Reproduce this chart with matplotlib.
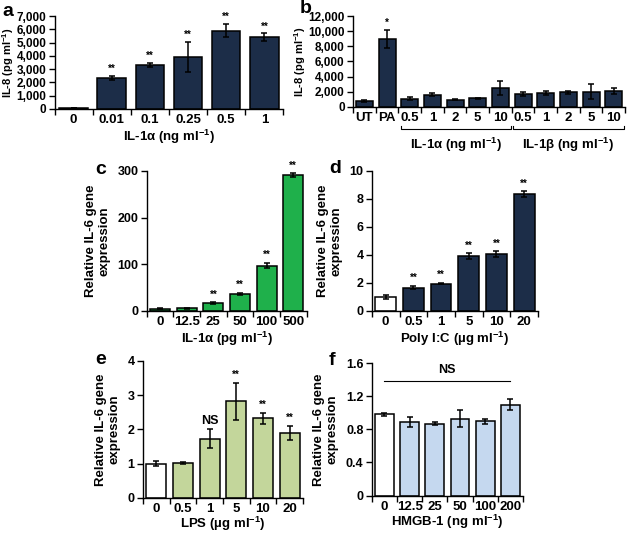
import matplotlib
matplotlib.use('Agg')
import matplotlib.pyplot as plt
import matplotlib.transforms as mtrans
from matplotlib.ticker import FuncFormatter

plt.rcParams['font.family'] = ['Liberation Sans', 'DejaVu Sans']
plt.rcParams['font.weight'] = 'bold'
plt.rcParams['axes.labelweight'] = 'bold'
plt.rcParams['font.size'] = 8
plt.rcParams['mathtext.fontset'] = 'custom'
plt.rcParams['mathtext.rm'] = 'Liberation Sans:bold'
plt.rcParams['mathtext.it'] = 'Liberation Sans:bold'
plt.rcParams['mathtext.bf'] = 'Liberation Sans:bold'
plt.rcParams['mathtext.default'] = 'rm'
plt.rcParams['axes.linewidth'] = 1.0

NAVY = '#1c2d48'
GREEN = '#1fb04b'
LGREEN = '#c3d69b'
LBLUE = '#c5d8ef'

# panel a
a_cats = ['0', '0.01', '0.1', '0.25', '0.5', '1']
a_vals = [80, 2350, 3300, 3900, 5900, 5400]
a_errs = [0, 150, 150, 1150, 500, 300]
a_sig = ['', '**', '**', '**', '**', '**']

# panel b
b_cats = ['UT', 'PA', '0.5', '1', '2', '5', '10', '0.5', '1', '2', '5', '10']
b_vals = [750, 9000, 1050, 1600, 950, 1100, 2450, 1700, 1800, 1900, 2000, 2100]
b_errs = [150, 1200, 200, 200, 50, 50, 900, 300, 300, 200, 1000, 400]
b_sig = ['', '*', '', '', '', '', '', '', '', '', '', '']

# panel c
c_cats = ['0', '12.5', '25', '50', '100', '500']
c_vals = [4, 5, 16, 36, 97, 291]
c_errs = [1, 2, 2, 2, 6, 4]
c_sig = ['', '', '**', '**', '**', '**']

# panel d
d_cats = ['0', '0.5', '1', '5', '10', '20']
d_vals = [1.0, 1.65, 1.93, 3.9, 4.05, 8.35]
d_errs = [0.15, 0.12, 0.05, 0.2, 0.2, 0.2]
d_sig = ['', '**', '**', '**', '**', '**']

# panel e
e_cats = ['0', '0.5', '1', '5', '10', '20']
e_vals = [1.0, 1.02, 1.72, 2.82, 2.32, 1.9]
e_errs = [0.08, 0.02, 0.28, 0.55, 0.17, 0.2]
e_sig = ['', '', 'NS', '**', '**', '**']

# panel f
f_cats = ['0', '12.5', '25', '50', '100', '200']
f_vals = [0.98, 0.89, 0.87, 0.93, 0.9, 1.1]
f_errs = [0.02, 0.06, 0.02, 0.1, 0.03, 0.07]


def bars(ax, cats, vals, errs, colors, sig, ymax, yticks, fmt=None, sig_off=0.02, ysize=9):
    x = list(range(len(cats)))
    ax.bar(x, vals, width=0.75, color=colors, edgecolor='black', linewidth=1.1, zorder=2)
    ax.errorbar(x, vals, yerr=errs, fmt='none', ecolor='black', elinewidth=1.1,
                capsize=2.5, capthick=1.1, zorder=3)
    for xi, v, e, s in zip(x, vals, errs, sig):
        if s:
            fs = 9 if s == 'NS' else 7
            ax.text(xi, v + e + ymax * sig_off, s, ha='center', va='bottom', fontsize=fs)
    ax.set_xlim(-0.5, len(cats) - 0.5)
    ax.set_ylim(0, ymax)
    ax.set_yticks(yticks)
    if fmt:
        ax.yaxis.set_major_formatter(FuncFormatter(fmt))
    ax.set_xticks([i - 0.5 for i in range(len(cats) + 1)])
    ax.set_xticklabels([])
    ax.set_xticks(x, minor=True)
    ax.set_xticklabels(cats, minor=True, fontweight='bold')
    ax.tick_params(axis='x', which='minor', length=0, pad=4, labelsize=9.5)
    ax.tick_params(axis='x', which='major', length=4, width=1.0, direction='out')
    ax.tick_params(axis='y', length=4, width=1.0, direction='out', pad=2, labelsize=ysize)
    plt.setp(ax.get_yticklabels(), fontweight='bold')
    ax.spines['top'].set_visible(False)
    ax.spines['right'].set_visible(False)


fig = plt.figure(figsize=(6.27, 5.34), dpi=100)

comma = lambda v, p: '{:,.0f}'.format(v)

ax_a = fig.add_axes([0.087, 0.796, 0.365, 0.174])
bars(ax_a, a_cats, a_vals, a_errs, [NAVY] * 6, a_sig, 7000, range(0, 7001, 1000), comma, ysize=8.5)
ax_a.set_ylabel('IL-8 (pg ml$^{-1}$)', fontsize=8, labelpad=0)
ax_a.set_xlabel('IL-1α (ng ml$^{-1}$)', fontsize=9.5, labelpad=1)

ax_b = fig.add_axes([0.563, 0.800, 0.434, 0.170])
bars(ax_b, b_cats, b_vals, b_errs, [NAVY] * 12, b_sig, 12000, range(0, 12001, 2000), comma, ysize=8.5)
ax_b.set_ylabel('IL-8 (pg ml$^{-1}$)', fontsize=8, labelpad=0)
tr = mtrans.blended_transform_factory(ax_b.transData, ax_b.transAxes)
for x0, x1, lab in [(1.6, 6.45, 'IL-1α (ng ml$^{-1}$)'), (6.55, 11.45, 'IL-1β (ng ml$^{-1}$)')]:
    ax_b.plot([x0, x0, x1, x1], [-0.21, -0.25, -0.25, -0.21], color='black', lw=0.8,
              transform=tr, clip_on=False)
    ax_b.text((x0 + x1) / 2, -0.42, lab, ha='center', va='center', fontsize=9.5, transform=tr)

ax_c = fig.add_axes([0.234, 0.418, 0.255, 0.262])
bars(ax_c, c_cats, c_vals, c_errs, [GREEN] * 6, c_sig, 300, [0, 100, 200, 300])
ax_c.set_ylabel('Relative IL-6 gene\nexpression', fontsize=9.5, labelpad=5)
ax_c.set_xlabel('IL-1α (pg ml$^{-1}$)', fontsize=9.5, labelpad=1)

ax_d = fig.add_axes([0.593, 0.418, 0.265, 0.262])
bars(ax_d, d_cats, d_vals, d_errs, ['white'] + [NAVY] * 5, d_sig, 10, [0, 2, 4, 6, 8, 10])
ax_d.set_ylabel('Relative IL-6 gene\nexpression', fontsize=9.5, labelpad=5)
ax_d.set_xlabel('Poly I:C (µg ml$^{-1}$)', fontsize=9.5, labelpad=1)

ax_e = fig.add_axes([0.228, 0.068, 0.255, 0.256])
bars(ax_e, e_cats, e_vals, e_errs, ['white'] + [LGREEN] * 5, e_sig, 4, [0, 1, 2, 3, 4])
ax_e.set_ylabel('Relative IL-6 gene\nexpression', fontsize=9.5, labelpad=5)
ax_e.set_xlabel('LPS (µg ml$^{-1}$)', fontsize=9.5, labelpad=0)

ax_f = fig.add_axes([0.593, 0.072, 0.241, 0.248])
bars(ax_f, f_cats, f_vals, f_errs, ['white'] + [LBLUE] * 5, [''] * 6, 1.6, [0, 0.4, 0.8, 1.2, 1.6],
     lambda v, p: '0' if v == 0 else '{:.1f}'.format(v))
ax_f.set_ylabel('Relative IL-6 gene\nexpression', fontsize=9.5, labelpad=5)
ax_f.set_xlabel('HMGB-1 (ng ml$^{-1}$)', fontsize=9.5, labelpad=0)
ax_f.plot([0, 5], [1.39, 1.39], color='black', lw=0.8)
ax_f.text(2.5, 1.44, 'NS', ha='center', va='bottom', fontsize=9)

for lab, x, y in [('a', 0.013, 0.978), ('b', 0.488, 0.985), ('c', 0.160, 0.682),
                  ('d', 0.535, 0.685), ('e', 0.160, 0.327), ('f', 0.530, 0.325)]:
    fig.text(x, y, lab, fontsize=14, fontweight='bold', ha='center', va='center')

fig.savefig('out.png', dpi=100)
